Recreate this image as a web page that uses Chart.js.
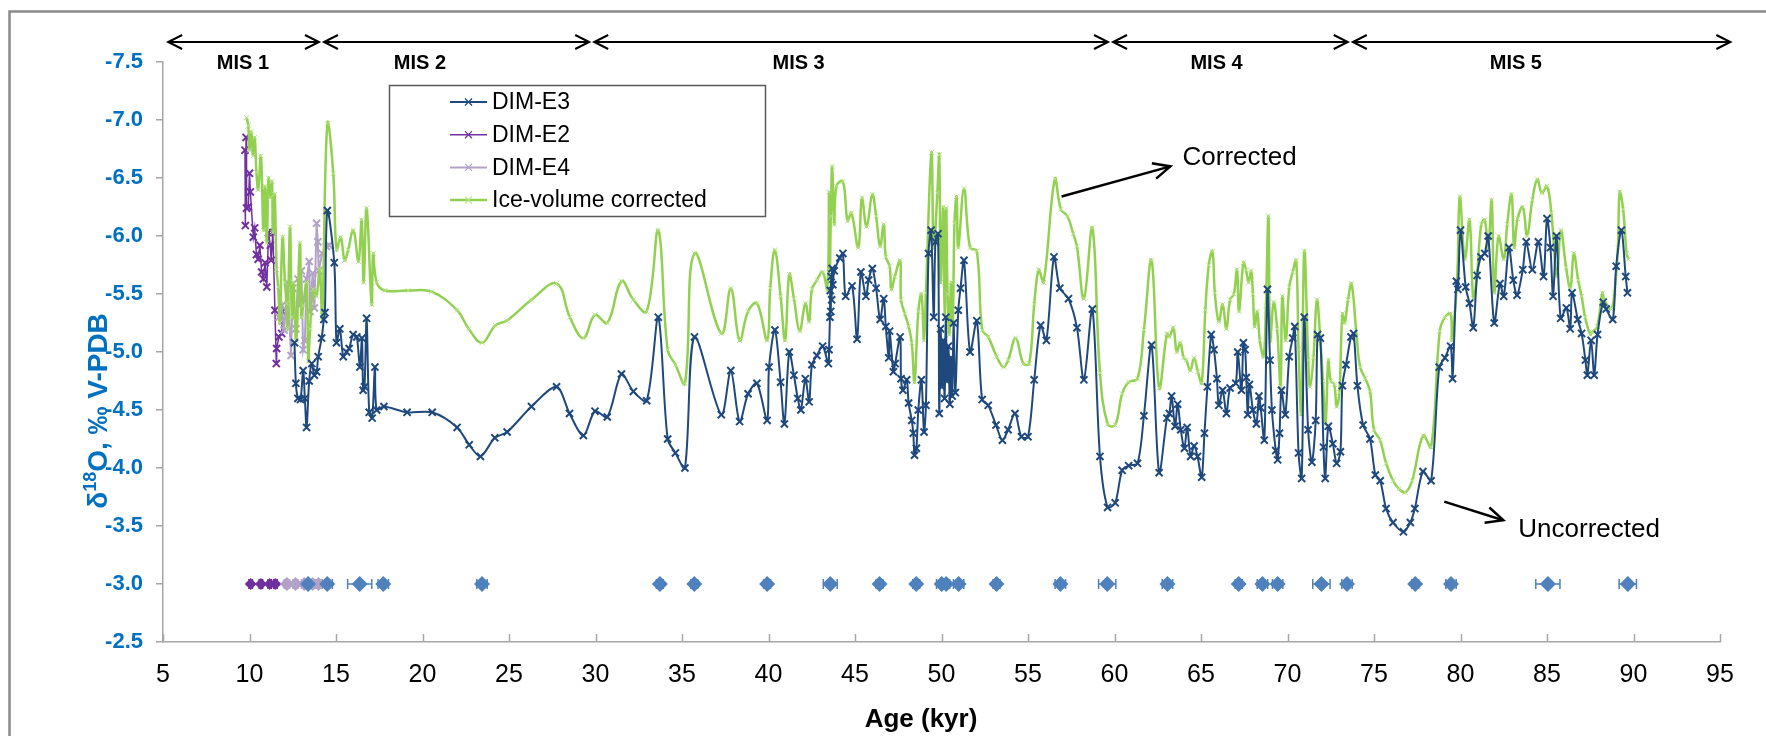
<!DOCTYPE html>
<html>
<head>
<meta charset="utf-8">
<script src="https://cdn.jsdelivr.net/npm/chart.js@4.4.0/dist/chart.umd.min.js"></script>
<style>
  html, body { margin: 0; padding: 0; background: #fff; }
  #wrap { width: 1766px; height: 736px; position: relative; }
</style>
</head>
<body>
<div id="wrap"><canvas id="chart"></canvas></div>
<script>
// age (kyr), d18O (per mil V-PDB)
const dimE3 = [
  [12.6,-5.08],[12.68,-4.73],[12.8,-4.6],[12.95,-4.59],[13.1,-4.84],[13.2,-4.6],[13.3,-4.35],[13.45,-4.75],
  [13.6,-4.9],[13.75,-4.8],[13.88,-4.83],[13.97,-4.96],[14.17,-5.12],[14.3,-5.28],[14.36,-5.34],[14.5,-6.22],
  [14.9,-5.77],[15.03,-5.08],[15.22,-5.2],[15.42,-4.96],[15.61,-5.0],[15.76,-5.03],[15.99,-5.15],[16.2,-5.13],
  [16.38,-4.87],[16.5,-5.12],[16.57,-4.67],[16.65,-4.7],[16.77,-5.29],[16.92,-4.48],[17.09,-4.43],[17.25,-4.87],
  [17.35,-4.5],[17.77,-4.53],[19.11,-4.48],[20.56,-4.48],[22.0,-4.35],[22.7,-4.2],[23.35,-4.1],[24.18,-4.26],
  [24.89,-4.31],[26.3,-4.53],[27.75,-4.7],[28.5,-4.47],[29.3,-4.28],[29.97,-4.49],[30.68,-4.44],[31.5,-4.81],
  [32.19,-4.66],[32.96,-4.58],[33.63,-5.3],[34.17,-4.25],[34.62,-4.13],[35.17,-4.0],[35.72,-5.13],[37.27,-4.46],
  [37.82,-4.84],[38.33,-4.4],[38.82,-4.64],[39.33,-4.73],[39.92,-4.41],[40.03,-4.87],[40.37,-5.19],[40.7,-4.74],
  [40.92,-4.38],[41.2,-5.0],[41.47,-4.8],[41.69,-4.6],[41.87,-4.5],[42.13,-4.77],[42.35,-4.57],[42.51,-4.89],
  [42.8,-4.97],[43.13,-5.05],[43.46,-4.9],[43.5,-5.02],[43.55,-5.3],[43.57,-5.53],[43.6,-5.35],[43.62,-5.65],
  [43.65,-5.45],[43.68,-5.72],[43.72,-5.58],[43.8,-5.7],[44.12,-5.81],[44.3,-5.85],[44.46,-5.48],[44.83,-5.57],
  [45.12,-5.11],[45.34,-5.69],[45.63,-5.48],[45.79,-5.62],[46.0,-5.72],[46.22,-5.55],[46.45,-5.28],[46.66,-5.46],
  [46.78,-5.22],[46.95,-4.95],[47.0,-5.18],[47.22,-4.83],[47.32,-4.9],[47.61,-5.13],[47.66,-4.77],[47.77,-4.67],
  [47.99,-4.76],[48.1,-4.56],[48.28,-4.41],[48.37,-4.3],[48.44,-4.11],[48.55,-4.17],[48.66,-4.5],[48.84,-4.76],
  [48.99,-4.31],[49.1,-4.54],[49.25,-5.85],[49.4,-6.05],[49.55,-5.3],[49.65,-5.95],[49.8,-6.02],[49.87,-4.47],
  [49.95,-5.2],[50.02,-4.7],[50.1,-5.1],[50.18,-4.6],[50.25,-5.3],[50.32,-4.75],[50.4,-5.05],[50.48,-4.55],
  [50.55,-4.95],[50.62,-4.62],[50.7,-5.25],[50.8,-4.65],[50.97,-5.36],[51.1,-5.55],[51.3,-5.79],[51.65,-5.0],
  [52.04,-5.27],[52.35,-4.59],[52.7,-4.54],[53.15,-4.37],[53.52,-4.24],[53.85,-4.33],[54.25,-4.47],[54.62,-4.27],
  [55.0,-4.27],[55.36,-4.76],[55.73,-5.23],[56.06,-5.1],[56.5,-5.82],[56.84,-5.55],[57.34,-5.46],[57.83,-5.21],
  [58.23,-4.76],[58.72,-5.37],[59.16,-4.1],[59.6,-3.66],[60.04,-3.7],[60.44,-3.98],[60.82,-4.02],[61.33,-4.04],
  [61.7,-4.45],[62.14,-5.06],[62.58,-3.96],[63.03,-4.43],[63.17,-4.47],[63.3,-4.62],[63.5,-4.36],[63.65,-4.55],
  [63.83,-4.33],[64.04,-4.17],[64.2,-4.35],[64.4,-4.1],[64.6,-4.19],[64.8,-4.1],[65.04,-3.92],[65.2,-4.3],
  [65.37,-4.7],[65.59,-5.15],[65.75,-5.02],[65.92,-4.77],[66.03,-4.54],[66.25,-4.67],[66.47,-4.47],[66.68,-4.69],
  [67.01,-4.73],[67.12,-5.0],[67.34,-4.67],[67.45,-5.08],[67.55,-5.02],[67.62,-4.78],[67.7,-4.46],[67.8,-4.72],
  [68.0,-4.5],[68.2,-4.38],[68.35,-4.62],[68.45,-4.52],[68.66,-4.24],[68.84,-5.54],[68.99,-4.93],[69.1,-4.5],
  [69.32,-4.15],[69.43,-4.07],[69.54,-4.3],[69.65,-4.67],[69.87,-4.46],[70.1,-4.96],[70.3,-5.12],[70.42,-5.22],
  [70.64,-4.13],[70.82,-3.91],[70.97,-5.3],[71.19,-4.33],[71.41,-4.05],[71.63,-4.41],[71.74,-5.15],[71.9,-5.12],
  [72.08,-4.18],[72.18,-3.91],[72.36,-4.36],[72.62,-4.21],[72.84,-4.04],[73.06,-4.14],[73.17,-4.71],[73.38,-4.89],
  [73.67,-5.13],[73.82,-5.16],[74.04,-4.71],[74.37,-4.37],[74.77,-4.25],[75.08,-3.94],[75.36,-3.89],[75.7,-3.65],
  [76.1,-3.53],[76.7,-3.45],[77.1,-3.53],[77.36,-3.65],[77.83,-3.97],[78.3,-3.89],[78.77,-4.87],[79.1,-4.95],
  [79.43,-5.05],[79.54,-4.77],[79.76,-5.61],[79.85,-5.54],[80.0,-6.05],[80.3,-5.56],[80.52,-5.42],[80.74,-5.21],
  [80.96,-5.66],[81.18,-5.82],[81.4,-5.85],[81.6,-6.0],[81.95,-5.25],[82.28,-5.59],[82.5,-5.48],[82.8,-5.9],
  [83.05,-5.62],[83.27,-5.49],[83.6,-5.71],[83.8,-5.95],[84.15,-5.71],[84.5,-5.95],[84.8,-5.65],[85.0,-6.15],
  [85.2,-5.9],[85.35,-5.48],[85.55,-6.0],[85.79,-5.29],[86.12,-5.38],[86.34,-5.2],[86.45,-5.51],[86.78,-5.28],
  [87.0,-5.16],[87.22,-4.93],[87.33,-4.8],[87.55,-5.1],[87.73,-4.8],[87.92,-5.15],[88.25,-5.43],[88.42,-5.37],
  [88.8,-5.28],[89.0,-5.74],[89.3,-6.05],[89.55,-5.65],[89.65,-5.51]
];

const dimE2 = [
  [9.74,-6.74],[9.76,-6.09],[9.8,-6.85],[9.83,-6.24],[9.93,-6.25],[10.0,-6.54],[10.05,-6.38],[10.22,-5.99],
  [10.3,-6.07],[10.4,-5.84],[10.5,-5.8],[10.6,-5.92],[10.7,-5.69],[10.8,-5.63],[10.9,-5.77],[11.0,-5.56],
  [11.1,-6.03],[11.2,-5.92],[11.25,-5.79],[11.35,-6.03],[11.47,-5.36],[11.55,-4.9],[11.57,-5.03],[11.7,-5.13],
  [11.86,-5.16],[11.9,-5.35]
];

const dimE4 = [
  [11.7,-5.3],[11.87,-5.4],[12.0,-5.19],[12.2,-5.6],[12.4,-4.97],[12.5,-5.55],[12.6,-5.3],[12.68,-5.2],
  [12.8,-5.63],[12.9,-5.4],[13.0,-5.7],[13.1,-5.02],[13.2,-5.1],[13.3,-5.63],[13.45,-5.78],[13.5,-5.35],
  [13.65,-5.68],[13.75,-5.38],[13.88,-6.11],[13.95,-5.95],[14.0,-5.7],[14.2,-5.85],[14.45,-5.91],[14.6,-5.92]
];

const iceCorrected = [
  [9.83,-7.02],[9.93,-6.95],[10.0,-6.74],[10.1,-6.9],[10.2,-6.69],[10.3,-6.85],[10.4,-6.55],[10.5,-6.4],
  [10.66,-6.69],[10.8,-6.05],[10.9,-6.43],[11.0,-5.94],[11.1,-6.5],[11.2,-6.33],[11.3,-6.47],[11.35,-6.03],
  [11.45,-6.36],[11.57,-5.71],[11.66,-5.56],[11.75,-5.25],[11.91,-5.99],[12.05,-5.6],[12.14,-5.42],[12.2,-5.2],
  [12.34,-6.08],[12.45,-5.3],[12.53,-5.6],[12.7,-5.1],[12.91,-5.94],[13.0,-5.3],[13.1,-5.4],[13.3,-5.6],
  [13.4,-4.92],[13.5,-5.2],[13.68,-5.54],[13.87,-5.48],[14.06,-5.72],[14.2,-5.3],[14.5,-6.97],[14.84,-6.54],
  [15.03,-5.88],[15.27,-5.99],[15.5,-5.79],[15.7,-5.88],[16.0,-6.05],[16.3,-5.78],[16.48,-6.14],[16.6,-5.6],
  [16.77,-6.24],[17.06,-5.41],[17.15,-5.85],[17.35,-5.6],[17.82,-5.53],[19.17,-5.53],[20.52,-5.52],[22.0,-5.36],
  [22.67,-5.2],[23.44,-5.08],[24.21,-5.23],[24.87,-5.27],[26.3,-5.45],[27.75,-5.59],[28.52,-5.3],[29.3,-5.12],
  [29.97,-5.32],[30.68,-5.25],[31.5,-5.61],[32.19,-5.45],[32.96,-5.35],[33.63,-6.05],[34.17,-5.02],[34.62,-4.89],
  [35.17,-4.73],[35.72,-5.85],[37.27,-5.16],[37.82,-5.55],[38.33,-5.1],[38.82,-5.35],[39.33,-5.42],[39.92,-5.1],
  [40.1,-5.55],[40.37,-5.88],[40.7,-5.48],[40.96,-5.1],[41.2,-5.67],[41.47,-5.46],[41.8,-5.18],[42.13,-5.42],
  [42.35,-5.26],[42.51,-5.54],[42.8,-5.62],[43.13,-5.69],[43.4,-5.54],[43.5,-6.38],[43.55,-5.7],[43.6,-6.17],
  [43.68,-6.6],[43.8,-6.1],[43.93,-6.43],[44.3,-6.47],[44.57,-6.13],[44.79,-6.2],[45.19,-5.9],[45.4,-6.33],
  [45.67,-6.08],[46.0,-6.36],[46.22,-6.17],[46.45,-5.91],[46.66,-6.1],[46.78,-5.82],[47.0,-5.74],[47.1,-5.54],
  [47.3,-5.65],[47.61,-5.79],[47.66,-5.45],[47.88,-5.33],[48.1,-5.22],[48.28,-5.08],[48.44,-4.74],[48.66,-5.35],
  [48.84,-5.5],[48.99,-5.1],[49.1,-5.51],[49.42,-6.72],[49.55,-5.9],[49.76,-6.37],[49.87,-6.7],[49.95,-5.6],
  [50.1,-6.25],[50.18,-5.3],[50.27,-6.24],[50.35,-5.5],[50.45,-5.15],[50.55,-5.6],[50.65,-5.25],[50.75,-6.11],
  [50.87,-6.34],[50.97,-5.9],[51.3,-6.41],[51.65,-5.9],[52.04,-5.87],[52.35,-5.19],[52.7,-5.13],[53.19,-4.96],
  [53.58,-4.87],[53.85,-4.93],[54.29,-5.12],[54.73,-4.9],[55.07,-4.9],[55.36,-5.41],[55.62,-5.71],[55.9,-5.6],
  [56.55,-6.49],[56.9,-6.23],[57.28,-6.17],[57.61,-6.02],[57.83,-5.91],[58.23,-5.46],[58.72,-6.07],[59.16,-4.82],
  [59.6,-4.38],[60.04,-4.37],[60.44,-4.64],[60.82,-4.74],[61.33,-4.77],[61.7,-5.19],[62.14,-5.79],[62.58,-4.69],
  [63.03,-5.16],[63.17,-5.13],[63.4,-5.21],[63.6,-5.0],[63.8,-5.08],[64.0,-4.95],[64.15,-4.93],[64.38,-4.84],
  [64.6,-4.95],[64.82,-4.83],[65.04,-4.73],[65.25,-5.36],[65.45,-5.75],[65.66,-5.87],[65.8,-5.51],[66.03,-5.26],
  [66.25,-5.41],[66.47,-5.2],[66.68,-5.45],[66.9,-5.5],[67.08,-5.71],[67.2,-5.35],[67.45,-5.77],[67.6,-5.71],
  [67.75,-5.6],[67.9,-5.7],[68.0,-5.5],[68.1,-5.22],[68.25,-5.35],[68.4,-5.1],[68.62,-4.96],[68.75,-5.4],
  [68.9,-6.17],[69.0,-5.1],[69.2,-5.43],[69.4,-5.2],[69.6,-4.7],[69.7,-5.48],[69.9,-5.1],[70.1,-5.56],
  [70.3,-5.69],[70.5,-5.79],[70.64,-5.02],[70.8,-4.47],[70.97,-5.87],[71.2,-4.93],[71.3,-4.7],[71.5,-4.95],
  [71.7,-5.45],[71.9,-5.1],[72.05,-4.75],[72.2,-4.38],[72.36,-4.93],[72.5,-4.75],[72.7,-4.72],[72.84,-4.53],
  [73.0,-4.65],[73.17,-5.33],[73.3,-5.25],[73.5,-5.45],[73.7,-5.59],[74.0,-5.13],[74.2,-4.87],[74.5,-4.77],
  [74.77,-4.66],[75.0,-4.33],[75.35,-4.24],[75.7,-4.04],[76.1,-3.89],[76.44,-3.82],[76.8,-3.79],[77.2,-3.89],
  [77.84,-4.28],[78.3,-4.18],[78.8,-5.18],[79.1,-5.3],[79.43,-5.33],[79.5,-5.1],[79.8,-5.62],[79.96,-6.34],
  [80.25,-5.8],[80.52,-6.14],[80.74,-5.46],[80.96,-5.68],[81.2,-6.1],[81.4,-6.14],[81.6,-5.9],[81.8,-6.31],
  [81.95,-5.51],[82.2,-6.0],[82.5,-5.8],[82.7,-6.1],[82.95,-6.36],[83.1,-5.9],[83.3,-6.15],[83.6,-6.25],
  [83.85,-6.0],[84.15,-6.31],[84.44,-6.49],[84.7,-6.37],[85.0,-6.43],[85.25,-6.2],[85.57,-5.65],[85.8,-6.05],
  [86.1,-5.73],[86.35,-5.55],[86.55,-5.85],[86.8,-5.62],[87.0,-5.48],[87.2,-5.3],[87.5,-5.15],[87.6,-5.17],
  [87.9,-5.22],[88.2,-5.51],[88.3,-5.45],[88.7,-5.37],[88.9,-5.51],[89.1,-5.9],[89.2,-6.38],[89.4,-6.23],
  [89.6,-5.85],[89.7,-5.8]
];

// U-Th dates shown as a row at -3.0, with 2-sigma age errors
const dateRow = -3.0;
const e2Dates = [10.07, 10.66, 11.17, 11.5];
const e2DateErr = [0.1, 0.1, 0.1, 0.1];
const e4Dates = [12.16, 12.66, 13.16, 13.65, 13.99];
const e4DateErr = [0.15, 0.15, 0.15, 0.15, 0.15];
const e3Dates = [13.39, 14.49, 16.37, 17.73, 23.44, 33.72, 35.71, 39.92, 43.57, 46.42, 48.54, 50.01, 50.27,
  50.99, 53.18, 56.87, 59.58, 63.06, 67.18, 68.55, 69.43, 71.96, 73.44, 77.38, 79.45, 85.05, 89.67];
const e3DateErr = [0.2, 0.3, 0.7, 0.3, 0.3, 0.2, 0.2, 0.2, 0.4, 0.2, 0.2, 0.3, 0.2,
  0.3, 0.2, 0.3, 0.5, 0.3, 0.2, 0.3, 0.3, 0.5, 0.3, 0.2, 0.3, 0.7, 0.5];

// marine isotope stages
const misLabels = ['MIS 1', 'MIS 2', 'MIS 3', 'MIS 4', 'MIS 5'];
const misBounds = [5.3, 14.16, 29.78, 59.77, 73.63, 95.6];
const misLabelAt = [9.62, 19.85, 41.74, 65.9, 83.2];

const BLUE_TXT = '#0070C0';
const AXIS_GREY = '#A6A6A6';
const FONT = "'Liberation Sans', Arial, sans-serif";

const pts = arr => arr.map(p => ({ x: p[0], y: p[1] }));
const row = ages => ages.map(a => ({ x: a, y: dateRow }));

function arrowHead(ctx, x0, y0, x1, y1, len, half) {
  const a = Math.atan2(y1 - y0, x1 - x0);
  const w = Math.atan2(half, len);
  const l = Math.hypot(len, half);
  ctx.beginPath();
  ctx.moveTo(x1 - l * Math.cos(a - w), y1 - l * Math.sin(a - w));
  ctx.lineTo(x1, y1);
  ctx.lineTo(x1 - l * Math.cos(a + w), y1 - l * Math.sin(a + w));
  ctx.stroke();
}

const decor = {
  id: 'decor',
  beforeDatasetsDraw(chart) {
    const { ctx, scales: { x, y } } = chart;
    // inside tick marks on the age axis
    ctx.save();
    ctx.strokeStyle = AXIS_GREY;
    ctx.lineWidth = 1.5;
    for (let v = 5; v <= 95; v += 5) {
      const px = Math.round(x.getPixelForValue(v)) + 0.5;
      ctx.beginPath();
      ctx.moveTo(px, y.bottom);
      ctx.lineTo(px, y.bottom - 8);
      ctx.stroke();
    }
    // age error bars
    chart.data.datasets.forEach(ds => {
      if (!ds.errors) return;
      ctx.strokeStyle = ds.backgroundColor;
      ctx.lineWidth = 1.5;
      ds.data.forEach((p, i) => {
        const e = ds.errors[i];
        const py = y.getPixelForValue(p.y);
        const a = x.getPixelForValue(p.x - e), b = x.getPixelForValue(p.x + e);
        ctx.beginPath();
        ctx.moveTo(a, py); ctx.lineTo(b, py);
        ctx.moveTo(a, py - 5); ctx.lineTo(a, py + 5);
        ctx.moveTo(b, py - 5); ctx.lineTo(b, py + 5);
        ctx.stroke();
      });
    });
    ctx.restore();
  },
  afterDraw(chart) {
    const { ctx, chartArea, scales: { x, y } } = chart;
    ctx.save();

    // outer frame (only left and top edges fall inside the picture)
    ctx.strokeStyle = '#8a8a8a';
    ctx.lineWidth = 2.5;
    ctx.strokeRect(9.5, 11.5, 2000, 2000);

    // MIS arrows
    ctx.strokeStyle = '#000';
    ctx.lineWidth = 2;
    const ay = chartArea.top - 20;
    for (let i = 0; i < misLabels.length; i++) {
      const a = x.getPixelForValue(misBounds[i]) + (i > 0 ? 2.5 : 0);
      const b = x.getPixelForValue(misBounds[i + 1]) - (i < misLabels.length - 1 ? 2.5 : 0);
      ctx.beginPath();
      ctx.moveTo(a, ay); ctx.lineTo(b, ay);
      ctx.stroke();
      arrowHead(ctx, b, ay, a, ay, 14, 7);
      arrowHead(ctx, a, ay, b, ay, 14, 7);
    }
    ctx.fillStyle = '#000';
    ctx.font = `bold 20px ${FONT}`;
    ctx.textAlign = 'center';
    ctx.textBaseline = 'middle';
    misLabels.forEach((t, i) => ctx.fillText(t, x.getPixelForValue(misLabelAt[i]), chartArea.top + 1));

    // legend box
    const lx = 389, ly = 85, lw = 376, lh = 131;
    ctx.fillStyle = '#fff';
    ctx.fillRect(lx, ly, lw, lh);
    ctx.strokeStyle = '#595959';
    ctx.lineWidth = 1.5;
    ctx.strokeRect(lx + 0.5, ly + 0.5, lw, lh);
    ctx.font = `23px ${FONT}`;
    ctx.textAlign = 'left';
    ctx.textBaseline = 'middle';
    chart.data.datasets.filter(ds => ds.inLegend).forEach((ds, i) => {
      const ry = ly + 17 + i * 32.7;
      ctx.strokeStyle = ds.borderColor;
      ctx.lineWidth = ds.borderWidth;
      ctx.beginPath();
      ctx.moveTo(lx + 61, ry); ctx.lineTo(lx + 98, ry);
      ctx.stroke();
      ctx.strokeStyle = ds.pointBorderColor;
      ctx.lineWidth = 1.2;
      Chart.helpers.drawPoint(ctx, { pointStyle: 'crossRot', radius: 5, borderWidth: 1.2, rotation: 0 }, lx + 79.5, ry);
      ctx.fillStyle = '#000';
      ctx.fillText(ds.label, lx + 103, ry + 1);
    });

    // annotation arrows
    ctx.strokeStyle = '#000';
    ctx.lineWidth = 2.5;
    const c0x = x.getPixelForValue(56.94), c0y = y.getPixelForValue(-6.34);
    const c1x = x.getPixelForValue(63.23), c1y = y.getPixelForValue(-6.6);
    ctx.beginPath(); ctx.moveTo(c0x, c0y); ctx.lineTo(c1x, c1y); ctx.stroke();
    arrowHead(ctx, c0x, c0y, c1x, c1y, 17, 8);
    const u0x = x.getPixelForValue(79.06), u0y = y.getPixelForValue(-3.71);
    const u1x = x.getPixelForValue(82.47), u1y = y.getPixelForValue(-3.55);
    ctx.beginPath(); ctx.moveTo(u0x, u0y); ctx.lineTo(u1x, u1y); ctx.stroke();
    arrowHead(ctx, u0x, u0y, u1x, u1y, 17, 8);
    ctx.fillStyle = '#000';
    ctx.font = `26px ${FONT}`;
    ctx.textAlign = 'left';
    ctx.fillText('Corrected', x.getPixelForValue(63.93), y.getPixelForValue(-6.675));
    ctx.fillText('Uncorrected', x.getPixelForValue(83.34), y.getPixelForValue(-3.47));

    // x axis title
    ctx.font = `bold 26px ${FONT}`;
    ctx.textAlign = 'center';
    ctx.fillText('Age (kyr)', 921, 720);

    // y axis title with superscript
    ctx.fillStyle = BLUE_TXT;
    ctx.translate(107, 411);
    ctx.rotate(-Math.PI / 2);
    ctx.textAlign = 'left';
    ctx.textBaseline = 'alphabetic';
    const big = `bold 28px ${FONT}`, small = `bold 18px ${FONT}`;
    const parts = [['\u03b4', big, 0], ['18', small, -11], ['O, \u2030 V-PDB', big, 0]];
    let total = 0;
    parts.forEach(p => { ctx.font = p[1]; total += ctx.measureText(p[0]).width; });
    let cx = -total / 2;
    parts.forEach(p => {
      ctx.font = p[1];
      ctx.fillText(p[0], cx, p[2]);
      cx += ctx.measureText(p[0]).width;
    });
    ctx.restore();
  }
};

new Chart(document.getElementById('chart'), {
  type: 'scatter',
  data: {
    datasets: [
      {
        label: 'DIM-E3 dates', data: row(e3Dates), errors: e3DateErr,
        pointStyle: 'rectRot', pointRadius: 8, backgroundColor: '#4F81BD', borderColor: '#4F81BD',
        pointBorderWidth: 0, showLine: false, order: 0
      },
      {
        label: 'DIM-E4 dates', data: row(e4Dates), errors: e4DateErr,
        pointStyle: 'rectRot', pointRadius: 7, backgroundColor: '#B3A2C7', borderColor: '#B3A2C7',
        pointBorderWidth: 0, showLine: false, order: 1
      },
      {
        label: 'DIM-E2 dates', data: row(e2Dates), errors: e2DateErr,
        pointStyle: 'rectRot', pointRadius: 6, backgroundColor: '#7030A0', borderColor: '#7030A0',
        pointBorderWidth: 0, showLine: false, order: 2
      },
      {
        label: 'DIM-E3', data: pts(dimE3), inLegend: true, showLine: true, tension: 0.3,
        borderColor: '#1F497D', borderWidth: 2, pointStyle: 'crossRot', pointRadius: 5,
        pointBorderColor: '#1F497D', pointBorderWidth: 2, order: 3
      },
      {
        label: 'DIM-E2', data: pts(dimE2), inLegend: true, showLine: true, tension: 0,
        borderColor: '#7030A0', borderWidth: 1.5, pointStyle: 'crossRot', pointRadius: 5,
        pointBorderColor: '#7030A0', pointBorderWidth: 2, order: 6
      },
      {
        label: 'DIM-E4', data: pts(dimE4), inLegend: true, showLine: true, tension: 0,
        borderColor: '#B3A2C7', borderWidth: 2, pointStyle: 'crossRot', pointRadius: 5,
        pointBorderColor: '#B3A2C7', pointBorderWidth: 2, order: 5
      },
      {
        label: 'Ice-volume corrected', data: pts(iceCorrected), inLegend: true, showLine: true, tension: 0.4,
        borderColor: '#92D050', borderWidth: 2.5, pointStyle: 'crossRot', pointRadius: 3.5,
        pointBorderColor: '#B9E38A', pointBorderWidth: 1, order: 4
      }
    ]
  },
  options: {
    responsive: true,
    maintainAspectRatio: false,
    animation: false,
    devicePixelRatio: 1,
    layout: { padding: { top: 62, right: 46, bottom: 0, left: 0 } },
    plugins: { legend: { display: false }, tooltip: { enabled: false } },
    elements: { point: { hoverRadius: 0 } },
    scales: {
      x: {
        type: 'linear', min: 5, max: 95,
        afterFit: s => { s.height = 94; },
        border: { color: AXIS_GREY, width: 1.5 },
        grid: { display: true, drawOnChartArea: false, drawTicks: false },
        ticks: { stepSize: 5, padding: 18, color: '#000', font: { family: FONT, size: 25 } }
      },
      y: {
        type: 'linear', min: -7.5, max: -2.5, reverse: true,
        afterFit: s => { s.width = 163; },
        border: { color: AXIS_GREY, width: 1.5 },
        grid: { drawOnChartArea: false, drawTicks: true, tickLength: 7, color: AXIS_GREY, lineWidth: 1.5 },
        ticks: {
          stepSize: 0.5, padding: 13, color: BLUE_TXT,
          font: { family: FONT, size: 22, weight: 'bold' },
          callback: v => v.toFixed(1)
        }
      }
    }
  },
  plugins: [decor]
});
</script>
</body>
</html>
